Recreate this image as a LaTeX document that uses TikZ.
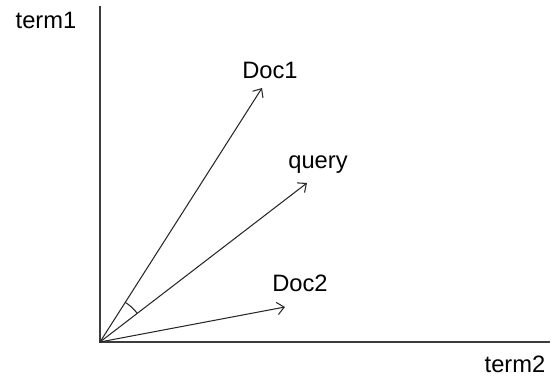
\documentclass[tikz,border=0pt]{standalone}
\usepackage{fontspec}
\setmainfont{Liberation Sans}
\usetikzlibrary{arrows.meta,positioning,calc}
\definecolor{axisgray}{RGB}{60,60,60}
\definecolor{vecgray}{RGB}{40,40,40}

\begin{document}
\begin{tikzpicture}[x=0.02cm,y=0.02cm,
    axis/.style={axisgray, line width=1.1pt},
    vec/.style={vecgray, line width=0.6pt, -{Straight Barb[length=4pt,width=7pt]}},
    lbl/.style={font=\fontsize{13.5}{15}\selectfont, inner sep=0pt}]
        \useasboundingbox (0,0) rectangle (556,381);
        % axes
        \coordinate (O) at (100,39);
        \coordinate (top) at (100,375);
        \coordinate (right) at (550,39);
        \draw[axis] (top) -- (O) -- (right);
        \node[lbl] (t1) at (46,361) {term1};
        \node[lbl] (t2) at (515,17) {term2};
        % vectors
        \coordinate (d1) at (262,293);
        \coordinate (q) at (307,198);
        \coordinate (d2) at (285,74);
        \draw[vec] (O) -- (d1);
        \draw[vec] (O) -- (q);
        \draw[vec] (O) -- (d2);
        \node[lbl] (d1lbl) at (270,311) {Doc1};
        \node[lbl] (qlbl) at (318,216) {query};
        \node[lbl] (d2lbl) at (300,98) {Doc2};
        % angle between Doc1 and query
        \draw[vecgray, line width=0.6pt] ($(O)+(57.5:47)$) arc[start angle=57.5, end angle=37.5, radius=47];
    \end{tikzpicture}
\end{document}
